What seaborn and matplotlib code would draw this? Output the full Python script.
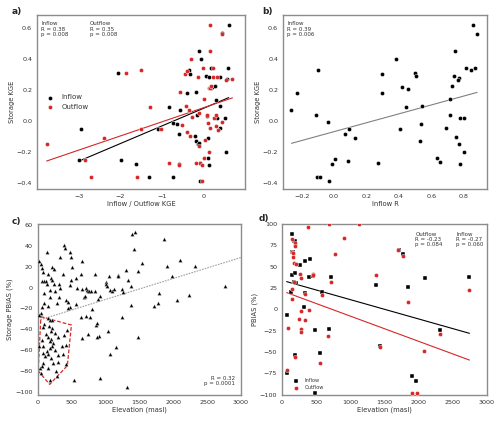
import numpy as np
import pandas as pd
import matplotlib
matplotlib.use("Agg")
import matplotlib.pyplot as plt
import seaborn as sns

# ---------------- data ----------------
# panel a: inflow KGE vs storage KGE
a_in_x = [-2.07, -2.95, -3.0, -1.98, -1.62, -1.31, -0.75, -0.85, -1.1, -0.74, -0.64, -0.6, -0.58, -0.6,
          -0.42, -0.37, -0.34, -0.19, -0.22, -0.19, -0.14, -0.11, -0.11, -0.08, -0.18, -0.09, -0.1,
          0.05, 0.13, 0.16, 0.17, 0.19, 0.26, 0.29, 0.08, 0.1, 0.1, 0.13, 0.31, 0.37, 0.38, 0.38,
          0.43, 0.5, 0.54, 0.52, 0.58, 0.59]
a_in_y = [0.31, -0.054, -0.255, -0.25, -0.28, -0.365, -0.36, 0.088, -0.054, -0.011, -0.02, -0.088, 0.07, -0.277,
          0.178, 0.328, 0.304, 0.184, -0.1, -0.127, -0.148, -0.146, 0.45, 0.40, 0.038, -0.386, -0.27,
          0.29, 0.28, 0.34, 0.21, 0.22, 0.223, 0.135, 0.034, -0.11, -0.238, -0.283, 0.02, 0.096, 0.285, -0.043,
          0.563, 0.021, 0.268, -0.2, 0.34, 0.62]
# outflow KGE vs storage KGE
a_out_x = [-3.77, -2.86, -2.71, -2.4, -1.87, -1.6, -1.5, -1.52, -1.3, -1.04, -0.83, -0.61, -0.57, -0.54,
           -0.45, -0.42, -0.44, -0.42, -0.36, -0.34, -0.31, -0.3, -0.2, -0.14, -0.12, -0.11, -0.09, -0.06,
           -0.05, -0.02, -0.01, 0.0, 0.02, 0.07, 0.11, 0.1, 0.11, 0.14, 0.15, 0.14, 0.15, 0.16, 0.22, 0.22,
           0.24, 0.29, 0.3, 0.34, 0.42, 0.43, 0.53, 0.68, 0.28]
a_out_y = [-0.15, -0.255, -0.365, -0.11, 0.31, -0.36, 0.328, -0.052, 0.088, -0.052, -0.273, -0.283, 0.184, -0.024,
           0.302, 0.32, 0.096, -0.07, 0.07, -0.1, 0.40, 0.025, -0.27, 0.28, 0.049, -0.163, -0.27, -0.386,
           -0.284, 0.34, 0.141, -0.238, -0.125, 0.038, 0.214, -0.017, -0.204, 0.62, 0.45, 0.21, -0.045, 0.224, 0.34, 0.285,
           0.021, 0.04, 0.28, -0.059, 0.56, -0.01, 0.266, 0.268, -0.034]

# panel b: inflow R vs storage KGE
b_x = [0.004, -0.014, 0.086, -0.105, -0.086, -0.029, 0.272, 0.132, 0.066, 0.095, -0.037, -0.113, -0.263,
       -0.23, -0.099, 0.296, 0.294, 0.385, 0.5, 0.506, 0.42, 0.457, 0.446, 0.543, 0.407, 0.535, 0.533,
       0.636, 0.652, 0.693, 0.716, 0.726, 0.749, 0.743, 0.77, 0.767, 0.817, 0.846, 0.87, 0.858, 0.883,
       0.78, 0.805, 0.716, 0.755, 0.774, 0.805, 0.778]
b_y = [-0.249, -0.279, -0.257, -0.362, -0.36, -0.388, -0.272, -0.11, -0.086, -0.054, -0.009, 0.04, 0.068,
       0.178, 0.326, 0.304, 0.182, 0.40, 0.311, 0.291, 0.216, 0.208, 0.088, 0.098, -0.054, -0.022, -0.129,
       -0.238, -0.268, -0.043, 0.139, 0.225, 0.452, 0.287, 0.276, 0.266, 0.343, 0.328, 0.343, 0.62, 0.56,
       0.019, 0.021, 0.038, -0.103, -0.148, -0.202, -0.281]

# panel c: elevation vs storage PBIAS
c_elev = [25, 55, 70, 145, 390, 410, 500, 330, 480, 210, 245, 83, 157, 378, 505, 73, 98, 118, 206, 216,
          250, 334, 324, 491, 486, 147, 187, 98, 255, 182, 319, 103, 290, 73, 157, 427, 452, 565, 584, 663,
          648, 663, 712, 736, 751, 682, 702, 761, 795, 800, 845, 854, 780, 712, 648, 751, 663, 899, 928, 869,
          909, 879, 918, 535, 1007, 1016, 1026, 1050, 1065, 1100, 1129, 1075, 1159, 1183, 1190, 1252, 1262,
          1306, 1331, 1375, 1375, 1252, 1478, 1316, 1399, 1444, 1424, 1483, 1537, 1861, 1915, 2097, 1979,
          2318, 2760, 1787, 1777, 1714, 2062, 2234, 1040, 565, 481, 447, 874,
          152, 187, 221, 98, 88, 172, 211, 196, 260, 118, 152, 201, 295, 393, 432, 64, 177, 226, 88, 211,
          358, 422, 187, 260, 137, 79, 162, 300, 113, 196, 373, 88, 226, 295, 422, 39, 59, 152, 275, 285,
          187, 54, 25, 54, 25]
c_pbias = [25.5, 23, 19, 34, 41, 37.5, 29.6, 29.6, 34, 19.4, 17.5, 15, 12.7, 13, 19.7, 6, 6.7, 6.4, 8.9, 7.3,
           3.8, -0.6, 3.5, 7.3, 2.5, 3.5, -2.5, -4.8, -3.8, -9.2, -9.2, -15, -15.3, -18.8, -18, -12.4, -14, 8.9, -0.6, -1,
           13.4, 25.5, -0.6, -2.5, -3.8, -9.2, -8, -2.9, -3.2, -20.4, -2.9, 12.7, -28, -27, -28, -45, -48, -11, -8.6, -35.6,
           -46.5, -47.4, -86.5, -88.7, 5, 3.5, 1.6, 11, -2.2, -3.8, -1.6, -63.6, -56.9, 12.1, 11.5, -1, -4.5,
           16.5, 7, 1.3, -16.9, -28.6, -47.4, -95.4, 50.9, 53.4, 36.6, 16.2, 23.5, 46.4, 20.4, 26.4, 10.8,
           21, 1, -5.7, -15.3, -18.1, -11.5, -7.6, -41.4, -16, -19, -20, -34,
           -29.6, -30.9, -31.5, -35, -37.8, -37.2, -38.8, -42, -43.6, -44.5, -47.4, -49, -47.4, -45.2, -40.4, -50, -51.5, -53, -55.7, -55.7,
           -55.7, -54.7, -57.9, -59.5, -61, -62.7, -64.2, -65.2, -65.8, -67.4, -64.2, -72.2, -72.8, -71.6, -73.8, -77, -75.4, -77.6, -80.2, -85,
           -88.7, -81.7, -56, -24.5, -26.7]
# outline of the highlighted low-elevation group (annotation)
c_poly_x = [50, 500, 440, 180, 10, 50]
c_poly_y = [-28, -36, -75, -93, -80, -28]

# panel d: elevation vs inflow / outflow PBIAS
# (the last values of each series lie outside the -100..100 window; they are
#  estimated from the position of the fitted lines, since they are clipped)
d_in_elev = [78, 68, 142, 171, 191, 147, 165, 264, 333, 411, 147, 196, 181, 210, 396, 455, 137, 333, 582, 724,
             328, 479, 685, 191, 562, 484, 1374, 1707, 1775, 1848, 2088, 2308, 2743, 1438, 1902, 1966,
             200, 1950]
d_in_pb = [-6.6, -74.5, 88, 80.3, 80.3, 67.5, 67, 51.9, 56.2, 59.3, 40.2, 42.9, 32.4, 30.4, 37.4, 39.4, 20.7, 19.5, 19.9, 37.4,
           2.3, -24.6, -23, -53, -51, -97.5, 28.9, 69.4, 64.4, 26.5, 36.7, -24.2, 37.8, -42.5, -78.4, -84.2,
           175.5, -123]
d_out_elev = [377, 685, 904, 1125, 142, 196, 191, 147, 156, 161, 181, 200, 450, 460, 264, 274, 181, 152, 333, 582,
              724, 147, 284, 396, 254, 333, 83, 274, 274, 680, 562, 191, 68, 778, 1374, 1702, 1775, 1848, 2083,
              2308, 2743, 1438, 1907, 1971,
              500, 1000, 1600]
d_out_pb = [96.7, 99.8, 83, 99.8, 81.9, 77.2, 74.1, 66.7, 65.5, 61.6, 53.8, 53, 42, 40, 41, 37, 32.4, 23.4, 17.6, 16.8,
            32, 12.1, -1.6, -0.8, -11.3, -12.5, -22.2, -23.4, -26, -31.2, -63.2, -56.2, -71.4, 64.7, 40.2, 70, 62.5, 9, -48.8,
            -28.9, 23, -44.5, -98.3, -97.5,
            -262, -281, -295]

# ---------------- style ----------------
sns.set_theme(style="white")
plt.rcParams['font.family'] = ['DejaVu Sans']
TXT = '#333333'
RED = '#d62728'
FS = 4.6

fig = plt.figure(figsize=(5, 4.25), dpi=100)
ax_a = fig.add_axes([0.074, 0.555, 0.416, 0.409])
ax_b = fig.add_axes([0.566, 0.555, 0.408, 0.409])
ax_c = fig.add_axes([0.075, 0.071, 0.407, 0.402])
ax_d = fig.add_axes([0.564, 0.071, 0.410, 0.402])

def style(ax):
    for s in ax.spines.values():
        s.set_color('#8c8c8c')
        s.set_linewidth(1.0)
    ax.tick_params(axis='both', labelsize=FS, colors=TXT, length=2, width=0.5, pad=1.5)
    ax.tick_params(axis='both', color='#555555')
    ax.xaxis.label.set_size(FS + 0.3)
    ax.yaxis.label.set_size(FS + 0.3)
    ax.xaxis.label.set_color(TXT)
    ax.yaxis.label.set_color(TXT)
    ax.xaxis.labelpad = 1.5
    ax.yaxis.labelpad = 1.5

# ---- panel a ----
dfa_in = pd.DataFrame({'x': a_in_x, 'y': a_in_y})
dfa_out = pd.DataFrame({'x': a_out_x, 'y': a_out_y})
sns.scatterplot(data=dfa_in, x='x', y='y', ax=ax_a, color='black', s=9, edgecolor='white', linewidth=0.3, label='Inflow', zorder=3)
sns.scatterplot(data=dfa_out, x='x', y='y', ax=ax_a, color=RED, s=9, edgecolor='white', linewidth=0.3, label='Outflow', zorder=3)
sns.regplot(data=dfa_in, x='x', y='y', ax=ax_a, scatter=False, ci=None, color='black', line_kws={'lw': 0.8})
sns.regplot(data=dfa_out, x='x', y='y', ax=ax_a, scatter=False, ci=None, color=RED, line_kws={'lw': 0.8})
ax_a.set_xlim(-4.0, 0.98)
ax_a.set_ylim(-0.44, 0.68)
ax_a.set_xticks([-3, -2, -1, 0])
ax_a.set_yticks([-0.4, -0.2, 0.0, 0.2, 0.4, 0.6])
ax_a.set_xlabel('Inflow / Outflow KGE')
ax_a.set_ylabel('Storage KGE')
ax_a.legend(loc='center left', bbox_to_anchor=(0.0, 0.5), frameon=False, fontsize=5, handletextpad=0.6,
            markerscale=1.0, labelcolor=TXT)
ax_a.text(0.02, 0.965, 'Inflow\nR = 0.38\np = 0.008', transform=ax_a.transAxes, fontsize=4.0, va='top', color=TXT, linespacing=1.1)
ax_a.text(0.255, 0.965, 'Outflow\nR = 0.35\np = 0.008', transform=ax_a.transAxes, fontsize=4.0, va='top', color=TXT, linespacing=1.1)
style(ax_a)

# ---- panel b ----
dfb = pd.DataFrame({'x': b_x, 'y': b_y})
sns.scatterplot(data=dfb, x='x', y='y', ax=ax_b, color='black', s=9, edgecolor='white', linewidth=0.3, zorder=3)
sns.regplot(data=dfb, x='x', y='y', ax=ax_b, scatter=False, ci=None, color='#808080', line_kws={'lw': 0.8})
ax_b.set_xlim(-0.315, 0.944)
ax_b.set_ylim(-0.44, 0.68)
ax_b.set_xticks([-0.2, 0.0, 0.2, 0.4, 0.6, 0.8])
ax_b.set_yticks([-0.4, -0.2, 0.0, 0.2, 0.4, 0.6])
ax_b.set_xlabel('Inflow R')
ax_b.set_ylabel('Storage KGE')
ax_b.text(0.02, 0.965, 'Inflow\nR = 0.39\np = 0.006', transform=ax_b.transAxes, fontsize=4.0, va='top', color=TXT, linespacing=1.1)
style(ax_b)

# ---- panel c ----
dfc = pd.DataFrame({'elev': c_elev, 'pbias': c_pbias})
ax_c.set_xlim(0, 3000)
ax_c.set_ylim(-103, 61)
sns.scatterplot(data=dfc, x='elev', y='pbias', ax=ax_c, color='black', marker='^', s=8, edgecolor='white', linewidth=0.2, zorder=3)
sns.regplot(data=dfc, x='elev', y='pbias', ax=ax_c, scatter=False, ci=None, truncate=False, color='#a0a0a0',
            line_kws={'lw': 0.8, 'ls': (0, (1.5, 1))})
ax_c.plot(c_poly_x, c_poly_y, color=RED, lw=0.9, ls=(0, (3, 1.5)), zorder=2)
ax_c.set_xlim(0, 3000)
ax_c.set_ylim(-103, 61)
ax_c.set_xticks([0, 500, 1000, 1500, 2000, 2500, 3000])
ax_c.set_yticks([-100, -80, -60, -40, -20, 0, 20, 40, 60])
ax_c.set_xlabel('Elevation (masl)')
ax_c.set_ylabel('Storage PBIAS (%)')
ax_c.text(0.97, 0.05, 'R = 0.32\np = 0.0001', transform=ax_c.transAxes, fontsize=4.0, ha='right', va='bottom', color=TXT, linespacing=1.1)
style(ax_c)

# ---- panel d ----
dfd_in = pd.DataFrame({'elev': d_in_elev, 'pb': d_in_pb})
dfd_out = pd.DataFrame({'elev': d_out_elev, 'pb': d_out_pb})
sns.scatterplot(data=dfd_in, x='elev', y='pb', ax=ax_d, color='black', s=9, marker='s', edgecolor='white', linewidth=0.3, label='Inflow', zorder=3)
sns.scatterplot(data=dfd_out, x='elev', y='pb', ax=ax_d, color=RED, s=9, edgecolor='white', linewidth=0.3, label='Outflow', zorder=3)
sns.regplot(data=dfd_in, x='elev', y='pb', ax=ax_d, scatter=False, ci=None, color='black', line_kws={'lw': 0.8})
sns.regplot(data=dfd_out, x='elev', y='pb', ax=ax_d, scatter=False, ci=None, color=RED, line_kws={'lw': 0.8})
ax_d.set_xlim(0, 3000)
ax_d.set_ylim(-100, 100)
ax_d.set_xticks([0, 500, 1000, 1500, 2000, 2500, 3000])
ax_d.set_yticks([-100, -75, -50, -25, 0, 25, 50, 75, 100])
ax_d.set_xlabel('Elevation (masl)')
ax_d.set_ylabel('PBIAS (%)')
ax_d.legend(loc='lower left', bbox_to_anchor=(0.02, 0.0), frameon=False, fontsize=3.6, handletextpad=0.8, labelcolor=TXT)
ax_d.text(0.65, 0.955, 'Outflow\nR = -0.23\np = 0.084', transform=ax_d.transAxes, fontsize=4.0, va='top', color=TXT, linespacing=1.1)
ax_d.text(0.85, 0.955, 'Inflow\nR = -0.27\np = 0.060', transform=ax_d.transAxes, fontsize=4.0, va='top', color=TXT, linespacing=1.1)
style(ax_d)

# panel letters
fig.text(0.024, 0.972, 'a)', fontsize=6.5, fontweight='bold', va='center')
fig.text(0.524, 0.972, 'b)', fontsize=6.5, fontweight='bold', va='center')
fig.text(0.024, 0.478, 'c)', fontsize=6.5, fontweight='bold', va='center')
fig.text(0.518, 0.487, 'd)', fontsize=6.5, fontweight='bold', va='center')

fig.savefig('out.png', dpi=100)
